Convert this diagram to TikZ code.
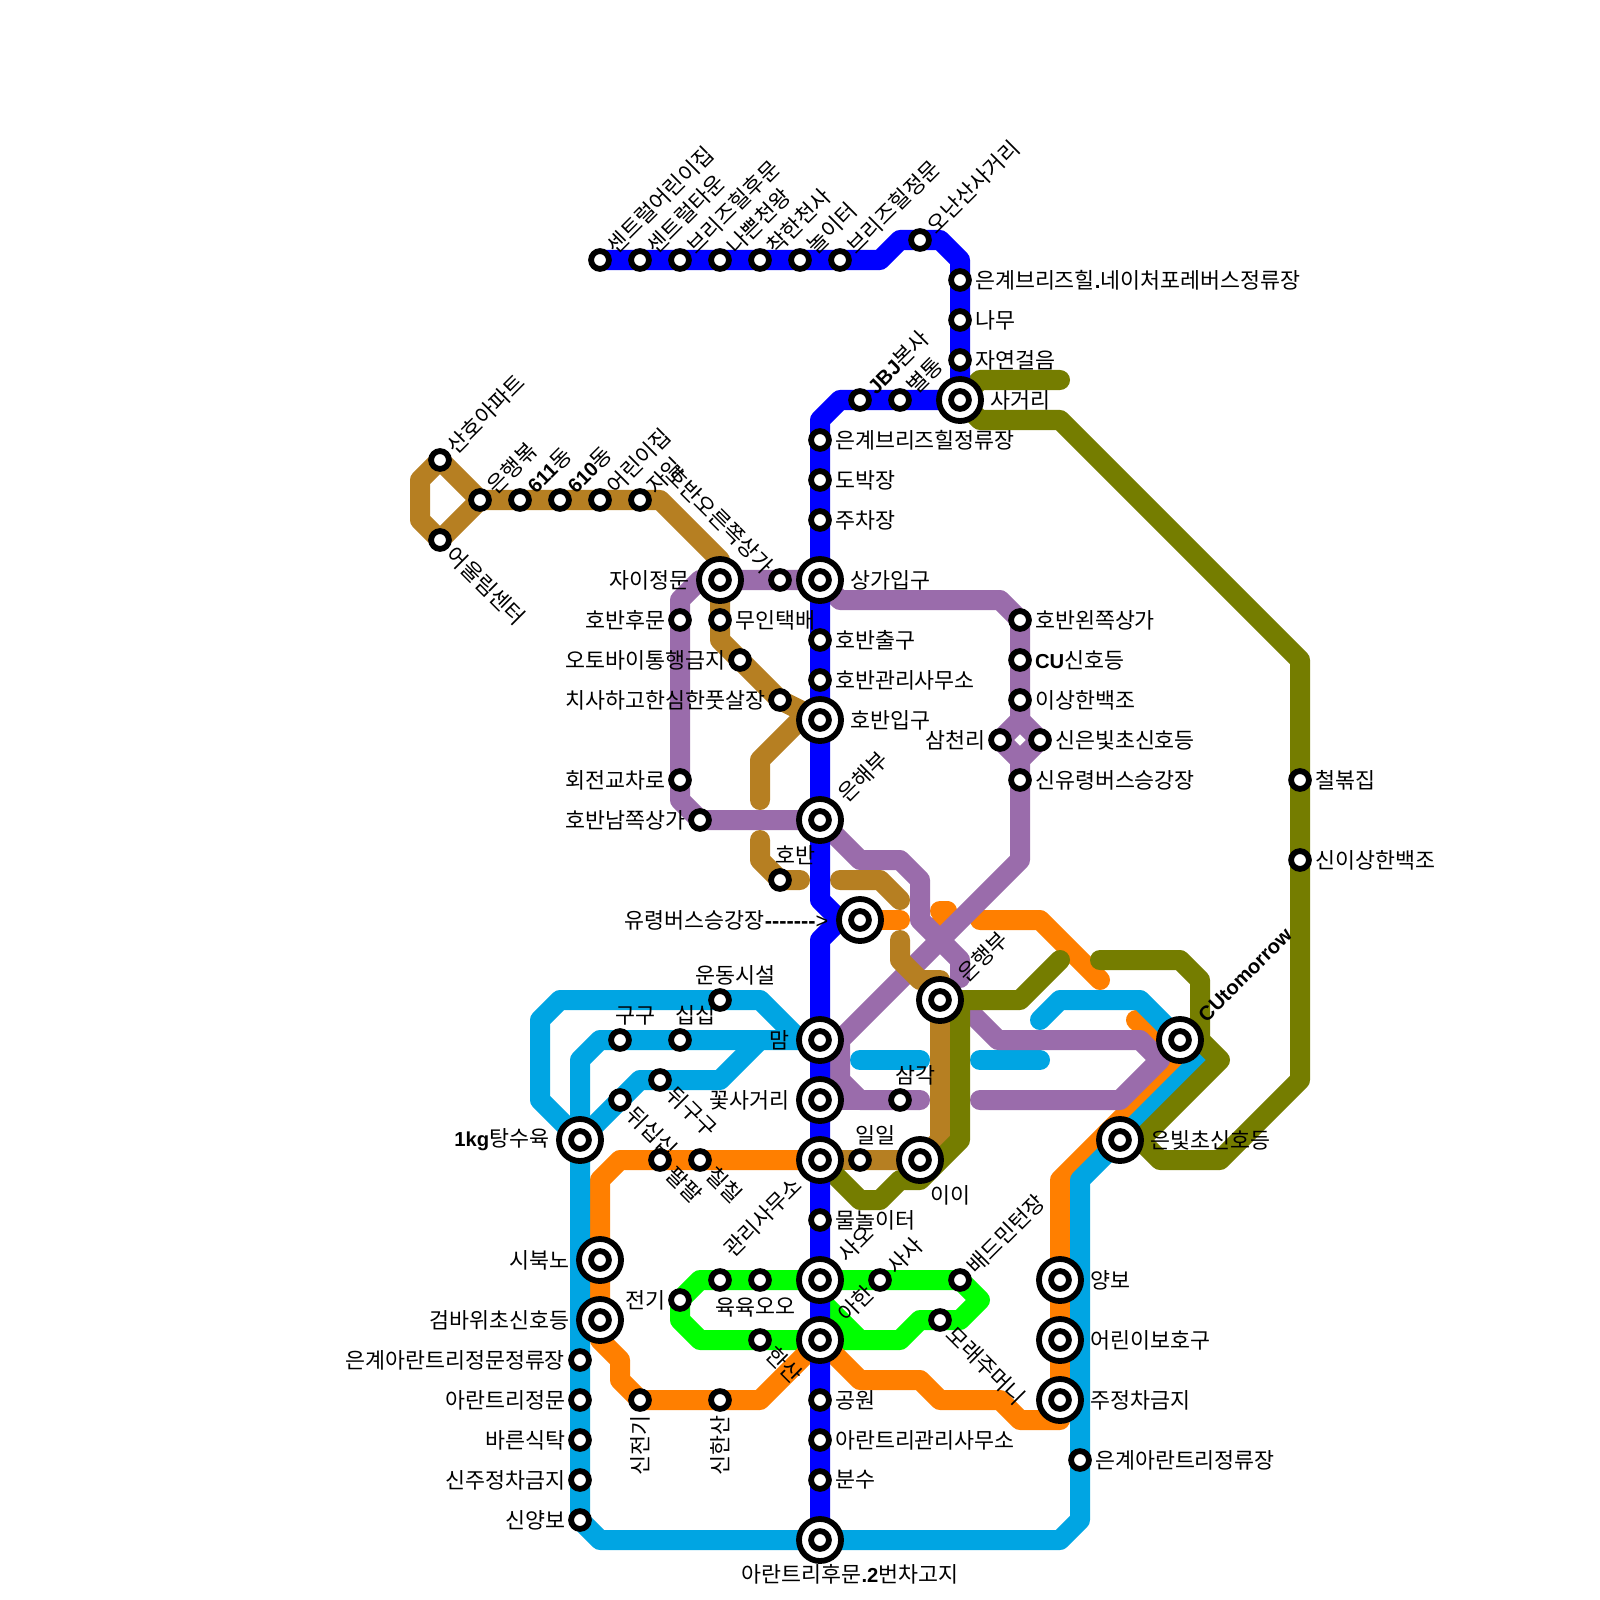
\documentclass[tikz,border=0pt]{standalone}
\usepackage{fontspec}
\setmainfont{Noto Sans CJK KR}
\newfontfamily\latfont{Liberation Sans}
\newcommand{\lat}[1]{{\latfont\bfseries\fontsize{5.75}{7}\selectfont #1}}
\usetikzlibrary{backgrounds}

\definecolor{bluecol}{HTML}{0000FF}
\definecolor{skycol}{HTML}{00A5E3}
\definecolor{orangecol}{HTML}{FF7F00}
\definecolor{greencol}{HTML}{00FF00}
\definecolor{olivecol}{HTML}{757D00}
\definecolor{browncol}{HTML}{B67F22}
\definecolor{purplecol}{HTML}{9A6CAB}

\tikzset{
  every label/.style={inner sep=0.025cm, font=\fontsize{6.18}{7}\selectfont, text=black},
  stn/.style={circle, draw=black, fill=white, line width=1.65pt, inner sep=0pt, minimum size=0.178cm},
  hub/.style={stn, minimum size=0.42cm,
    path picture={\draw[line width=1.65pt] (path picture bounding box.center) circle (0.089cm);}},
  ln/.style={line width=5.69pt, line cap=round, line join=round},
  E/.style={anchor=west},
  W/.style={anchor=east},
  NE/.style={anchor=west, rotate=45},
  SE/.style={anchor=west, rotate=-45},
  NW/.style={anchor=east, rotate=-45},
  HE/.style={E, inner sep=0.062cm},
  HW/.style={W, inner sep=0.062cm},
  HNE/.style={NE, inner sep=0.062cm},
  HSW/.style={anchor=east, rotate=45, inner sep=0.062cm},
  N/.style={anchor=south, xshift=0.15cm},
  S/.style={anchor=north, xshift=0.15cm, yshift=-0.03cm},
  V/.style={anchor=east, rotate=90},
}

\begin{document}
\begin{tikzpicture}[x=0.01cm, y=-0.01cm]
  \useasboundingbox (0,0) rectangle (1600,1600);

  % Blue line stations
  \node[stn, label={[NE]45:센트럴어린이집}] (nursery) at (600,260) {};
  \node[stn, label={[NE]45:센트럴타운}] (town) at (640,260) {};
  \node[stn, label={[NE]45:브리즈힐후문}] (backgate) at (680,260) {};
  \node[stn, label={[NE]45:나쁜천왕}] (badangel) at (720,260) {};
  \node[stn, label={[NE]45:착한천사}] (goodangel) at (760,260) {};
  \node[stn, label={[NE]45:놀이터}] (playground) at (800,260) {};
  \node[stn, label={[NE]45:브리즈힐정문}] (frontgate) at (840,260) {};
  \node[stn, label={[NE]45:오난산사거리}] (onansan) at (920,240) {};
  \node[stn, label={[E]0:은계브리즈힐\lat{.}네이처포레버스정류장}] (naturebus) at (960,280) {};
  \node[stn, label={[E]0:나무}] (tree) at (960,320) {};
  \node[stn, label={[E]0:자연걸음}] (naturewalk) at (960,360) {};
  \node[hub, label={[HE]0:사거리}] (cross) at (960,400) {};
  \node[stn, label={[NE]45:별통}] (byeol) at (900,400) {};
  \node[stn, label={[NE]45:\lat{JBJ}본사}] (jbj) at (860,400) {};
  \node[stn, label={[E]0:은계브리즈힐정류장}] (hillbus) at (820,440) {};
  \node[stn, label={[E]0:도박장}] (casino) at (820,480) {};
  \node[stn, label={[E]0:주차장}] (parking) at (820,520) {};
  \node[hub, label={[HE]0:상가입구}] (mallgate) at (820,580) {};
  \node[stn, label={[E]0:호반출구}] (lakeexit) at (820,640) {};
  \node[stn, label={[E]0:호반관리사무소}] (lakeoffice) at (820,680) {};
  \node[hub, label={[HE]0:호반입구}] (lakegate) at (820,720) {};
  \node[hub, label={[HNE]45:은해부}] (eunhae) at (820,820) {};
  \node[hub] (ghostbus) at (860,920) {};
  \node[hub, label={[HW]180:맘}] (mam) at (820,1040) {};
  \node[hub, label={[HW]180:꽃사거리}] (flowercross) at (820,1100) {};
  \node[hub, label={[HSW]225:관리사무소}] (office) at (820,1160) {};
  \node[stn, label={[E]0:물놀이터}] (waterplay) at (820,1220) {};
  \node[hub, label={[HNE]45:사오}] (sao) at (820,1280) {};
  \node[hub, label={[HNE]45:아한}] (ahan) at (820,1340) {};
  \node[stn, label={[E]0:공원}] (park) at (820,1400) {};
  \node[stn, label={[E]0:아란트리관리사무소}] (aranoffice) at (820,1440) {};
  \node[stn, label={[E]0:분수}] (fountain) at (820,1480) {};
  \node[hub, label={[anchor=north, inner sep=0pt, xshift=0.3cm]-90:아란트리후문\lat{.2}번차고지}] (garage) at (820,1540) {};

  % Brown line stations
  \node[stn, label={[NE]45:산호아파트}] (coral) at (440,460) {};
  \node[stn, label={[SE]-45:어울림센터}] (ourim) at (440,540) {};
  \node[stn, label={[NE]45:은행볶}] (bank) at (480,500) {};
  \node[stn, label={[NE]45:\lat{611}동}] (dong611) at (520,500) {};
  \node[stn, label={[NE]45:\lat{610}동}] (dong610) at (560,500) {};
  \node[stn, label={[NE]45:어린이집}] (daycare) at (600,500) {};
  \node[stn, label={[NE]45:자일}] (jail) at (640,500) {};
  \node[hub, label={[HW]180:자이정문}] (xigate) at (720,580) {};
  \node[stn, label={[E]0:무인택배}] (parcel) at (720,620) {};
  \node[stn, label={[W]180:오토바이통행금지}] (nobike) at (740,660) {};
  \node[stn, label={[W]180:치사하고한심한풋살장}] (futsal) at (780,700) {};
  \node[stn, label={[N]90:호반}] (lake) at (780,880) {};
  \node[stn, label={[N]90:일일}] (ilil) at (860,1160) {};
  \node[hub, label={[HNE]45:은행부}] (eunhaeng) at (940,1000) {};
  \node[hub, label={[anchor=north west, xshift=-0.1cm, yshift=-0.05cm]-45:이이}] (ii) at (920,1160) {};

  % Purple line stations
  \node[stn, label={[NW]135:호반오른쪽상가}] (lakeright) at (780,580) {};
  \node[stn, label={[W]180:호반후문}] (lakeback) at (680,620) {};
  \node[stn, label={[W]180:회전교차로}] (rotary) at (680,780) {};
  \node[stn, label={[W]180:호반남쪽상가}] (lakesouth) at (700,820) {};
  \node[stn, label={[E]0:호반왼쪽상가}] (lakeleft) at (1020,620) {};
  \node[stn, label={[E]0:\lat{CU}신호등}] (culight) at (1020,660) {};
  \node[stn, label={[E]0:이상한백조}] (swan) at (1020,700) {};
  \node[stn, label={[W]180:삼천리}] (samcheon) at (1000,740) {};
  \node[stn, label={[E]0:신은빛초신호등}] (neweunbit) at (1040,740) {};
  \node[stn, label={[E]0:신유령버스승강장}] (newghost) at (1020,780) {};
  \node[stn, label={[N]90:삼각}] (triangle) at (900,1100) {};
  \node[hub, label={[HNE]45:\lat{CUtomorrow}}] (cutomorrow) at (1180,1040) {};

  % Olive line stations
  \node[stn, label={[E]0:철볶집}] (bar) at (1300,780) {};
  \node[stn, label={[E]0:신이상한백조}] (newswan) at (1300,860) {};
  \node[hub, label={[HE]0:은빛초신호등}] (eunbit) at (1120,1140) {};

  % Sky line stations
  \node[hub, label={[HW]180:\lat{1kg}탕수육}] (sweetpork) at (580,1140) {};
  \node[stn, label={[N]90:구구}] (gugu) at (620,1040) {};
  \node[stn, label={[N]90:십십}] (sipsip) at (680,1040) {};
  \node[stn, label={[N]90:운동시설}] (gym) at (720,1000) {};
  \node[stn, label={[SE]-45:뒤구구}] (dwigu) at (660,1080) {};
  \node[stn, label={[SE]-45:뒤십십}] (dwisip) at (620,1100) {};
  \node[stn, label={[W]180:은계아란트리정문정류장}] (aranbus) at (580,1360) {};
  \node[stn, label={[W]180:아란트리정문}] (arangate) at (580,1400) {};
  \node[stn, label={[W]180:바른식탁}] (table) at (580,1440) {};
  \node[stn, label={[W]180:신주정차금지}] (newnostop) at (580,1480) {};
  \node[stn, label={[W]180:신양보}] (newyield) at (580,1520) {};
  \node[stn, label={[E]0:은계아란트리정류장}] (aranstop) at (1080,1460) {};

  % Orange line stations
  \node[stn, label={[SE]-45:팔팔}] (palpal) at (660,1160) {};
  \node[stn, label={[SE]-45:칠칠}] (chilchil) at (700,1160) {};
  \node[hub, label={[HW]180:시북노}] (sibuk) at (600,1260) {};
  \node[hub, label={[HW]180:검바위초신호등}] (gombawi) at (600,1320) {};
  \node[stn, label={[V]-90:신전기}] (newelec) at (640,1400) {};
  \node[stn, label={[V]-90:신한산}] (newhan) at (720,1400) {};
  \node[hub, label={[HE]0:양보}] (yield) at (1060,1280) {};
  \node[hub, label={[HE]0:어린이보호구}] (kidzone) at (1060,1340) {};
  \node[hub, label={[HE]0:주정차금지}] (nostop) at (1060,1400) {};

  % Green line stations
  \node[stn, label={[W]180:전기}] (elec) at (680,1300) {};
  \node[stn, label={[S]-90:육육}] (yukyuk) at (720,1280) {};
  \node[stn, label={[S]-90:오오}] (oo) at (760,1280) {};
  \node[stn, label={[SE]-45:한산}] (hansan) at (760,1340) {};
  \node[stn, label={[NE]45:사사}] (sasa) at (880,1280) {};
  \node[stn, label={[NE]45:배드민턴장}] (badminton) at (960,1280) {};
  \node[stn, label={[SE]-45:모래주머니}] (sandbag) at (940,1320) {};

  % Arrow text beside the hub
  \node[anchor=east, inner sep=0pt, font=\fontsize{6.18}{7}\selectfont] (ghostlabel) at (829,920) {유령버스승강장{\latfont\bfseries -------}{\latfont >}};

  % Free ends of the broken lines
  \coordinate (olivea) at (1060,380);
  \coordinate (oliveb) at (1100,960);
  \coordinate (olivec) at (1060,960);
  \coordinate (browna) at (760,800);
  \coordinate (brownb) at (760,840);
  \coordinate (brownc) at (800,880);
  \coordinate (brownd) at (840,880);
  \coordinate (browne) at (900,900);
  \coordinate (brownf) at (900,940);
  \coordinate (orangea) at (900,920);
  \coordinate (orangeb) at (940,911);
  \coordinate (orangec) at (980,920);
  \coordinate (oranged) at (1100,980);
  \coordinate (orangee) at (1136,1020);
  \coordinate (purplea) at (920,1100);
  \coordinate (purpleb) at (980,1100);
  \coordinate (purplec) at (960,978);
  \coordinate (purpled) at (960,1002);
  \coordinate (skya) at (860,1060);
  \coordinate (skyb) at (920,1060);
  \coordinate (skyc) at (980,1060);
  \coordinate (skyd) at (1040,1060);
  \coordinate (skye) at (1040,1020);

  \begin{pgfonlayer}{background}
    % Green
    \draw[ln, greencol] (badminton.center) -- (sao.center) -- (yukyuk.center) -- ++(-20,0) -- (elec.center)
      -- ++(0,20) -- ++(20,20) -- (ahan.center) -- ++(80,0) -- ++(20,-20) -- (sandbag.center) -- ++(20,0) -- ++(20,-20) -- (badminton.center);
    \draw[ln, greencol] (sao.center) -- ++(0,20) -- ++(40,40);

    % Orange
    \draw[ln, orangecol] (office.center) -- ++(-200,0) -- ++(-20,20) -- (gombawi.center) -- ++(0,20) -- ++(20,20) -- ++(0,20)
      -- (newelec.center) -- ++(120,0) -- (ahan.center) -- ++(40,40) -- ++(60,0) -- ++(20,20) -- ++(60,0) -- ++(20,20)
      -- ++(40,0) -- (yield.center) -- ++(0,-100) -- ++(120,-120) -- (orangee);
    \draw[ln, orangecol] (ghostbus.center) -- (orangea);
    \draw[ln, orangecol] (orangeb) -- ++(7,0) -- ++(-7,14);
    \draw[ln, orangecol] (orangec) -- ++(60,0) -- (oranged);

    % Sky
    \draw[ln, skycol] (sweetpork.center) -- ++(-40,-40) -- ++(0,-80) -- ++(20,-20) -- ++(200,0) -- ++(40,40) -- (mam.center);
    \draw[ln, skycol] (sweetpork.center) -- ++(0,-80) -- ++(20,-20) -- (mam.center);
    \draw[ln, skycol] (sweetpork.center) -- (dwisip.center) -- ++(20,-20) -- ++(80,0) -- ++(40,-40);
    \draw[ln, skycol] (sweetpork.center) -- (newyield.center) -- ++(20,20) -- ++(460,0) -- ++(20,-20) -- ++(0,-340)
      -- (eunbit.center) -- ++(80,-80) -- ++(-60,-60) -- ++(-80,0) -- (skye);
    \draw[ln, skycol] (skya) -- (skyb);
    \draw[ln, skycol] (skyc) -- (skyd);

    % Purple
    \draw[ln, purplecol] (mallgate.center) -- (xigate.center) -- ++(-20,0) -- ++(-20,20) -- (rotary.center) -- ++(0,20) -- ++(20,20) -- (eunhae.center)
      -- ++(40,40) -- ++(40,0) -- ++(20,20) -- ++(0,40) -- ++(40,40) -- (purplec);
    \draw[ln, purplecol] (purpled) -- ++(38,38) -- ++(142,0) -- ++(20,20) -- ++(-40,40) -- (purpleb);
    \draw[ln, purplecol] (mallgate.center) -- ++(20,20) -- ++(160,0) -- (lakeleft.center) -- (swan.center) -- ++(0,20) -- (samcheon.center) -- ++(20,20)
      -- (newghost.center) -- ++(0,80) -- ++(-180,180) -- ++(0,40) -- ++(20,20) -- (purplea);
    \draw[ln, purplecol] (swan.center) -- ++(0,20) -- (neweunbit.center) -- ++(-20,20);
    \draw[ln, purplecol] (flowercross.center) -- (triangle.center);

    % Brown
    \draw[ln, browncol] (ilil.center) -- (office.center);
    \draw[ln, browncol] (bank.center) -- (coral.center) -- ++(-20,20) -- ++(0,40) -- (ourim.center) -- (bank.center) -- (jail.center)
      -- ++(20,0) -- ++(60,60) -- (xigate.center) -- ++(0,60) -- ++(60,60) -- (lakegate.center);
    \draw[ln, browncol] (lakegate.center) -- ++(-20,0) -- ++(-40,40) -- (browna);
    \draw[ln, browncol] (brownb) -- ++(0,20) -- (lake.center) -- (brownc);
    \draw[ln, browncol] (brownd) -- ++(40,0) -- (browne);
    \draw[ln, browncol] (brownf) -- ++(0,20) -- ++(20,20) -- ++(20,0) -- ++(0,160) -- (ii.center) -- (ilil.center);

    % Olive
    \draw[ln, olivecol] (oliveb) -- ++(80,0) -- ++(20,20) -- ++(0,60) -- ++(20,20) -- ++(-80,80) -- ++(20,20) -- ++(60,0) -- ++(80,-80)
      -- (newswan.center) -- (bar.center) -- ++(0,-120) -- ++(-240,-240) -- ++(-80,0) -- (cross.center) -- ++(20,-20) -- (olivea);
    \draw[ln, olivecol] (olivec) -- ++(-40,40) -- (eunhaeng.center);
    \draw[ln, olivecol] (eunhaeng.center) -- ++(20,0) -- ++(0,140) -- ++(-40,40) -- ++(-20,0) -- ++(-20,20) -- ++(-20,0) -- (office.center);

    % Blue
    \draw[ln, bluecol] (nursery.center) -- (frontgate.center) -- ++(40,0) -- ++(20,-20) -- (onansan.center) -- ++(20,0) -- ++(20,20) -- (cross.center)
      -- (jbj.center) -- ++(-20,0) -- ++(-20,20) -- (eunhae.center) -- ++(0,80) -- ++(20,20) -- (ghostbus.center);
    \draw[ln, bluecol] (ghostbus.center) -- ++(-20,0) -- ++(-20,20) -- (mam.center) -- (garage.center);
  \end{pgfonlayer}
\end{tikzpicture}
\end{document}
